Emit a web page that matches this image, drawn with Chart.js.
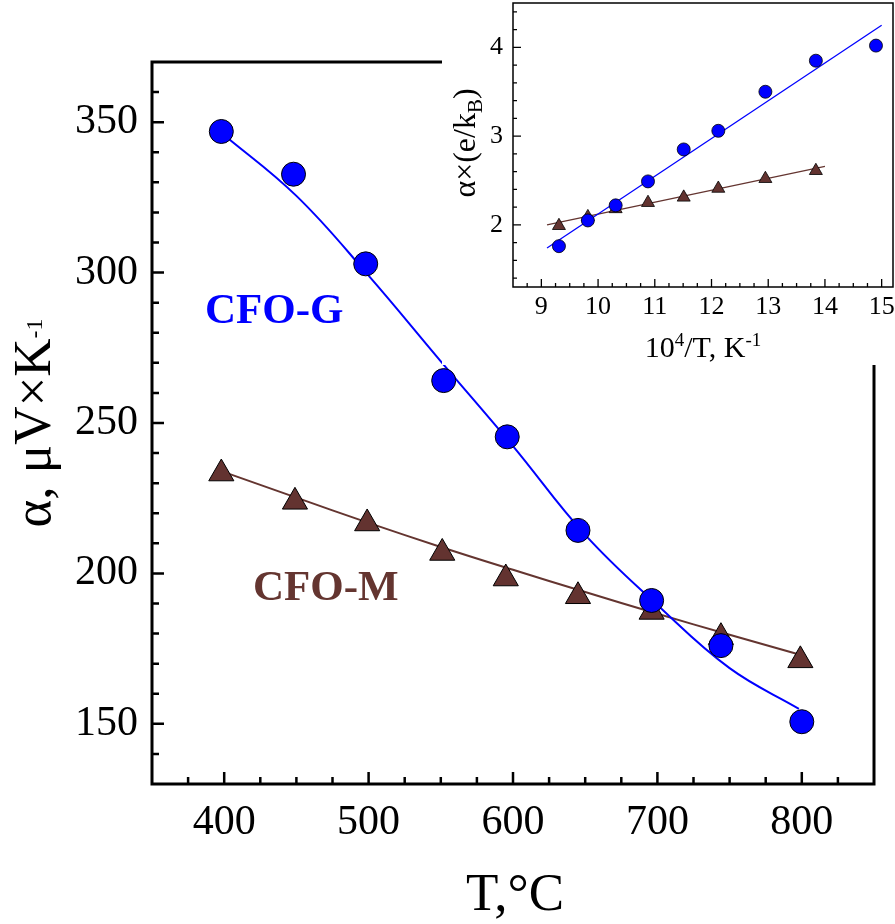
<!DOCTYPE html>
<html lang="en">
<head>
<meta charset="utf-8" />
<script src="https://cdn.jsdelivr.net/npm/chart.js@4.4.0/dist/chart.umd.min.js"></script>
<title>Seebeck coefficient</title>
<style>
  html, body { margin: 0; padding: 0; background: #fff; overflow: hidden; }
  #wrap { position: relative; width: 895px; height: 924px; overflow: hidden; }
  #main { position: absolute; left: 0; top: 0; }
  /* inset canvas runs a little past the top/right edge so the chart's point overflow padding falls outside */
  #inset { position: absolute; left: 442px; top: -6px; background: #fff; }
</style>
</head>
<body>
<div id="wrap">
  <canvas id="main" width="895" height="924"></canvas>
  <canvas id="inset" width="462" height="371"></canvas>
</div>
<script>
// main panel: alpha (uV/K) against T (C)
const tempG  = [398, 448, 498, 552, 596, 645, 696, 744, 800];
const alphaG = [346.9, 332.7, 302.9, 264.1, 245.4, 214.3, 191.0, 176.0, 150.7];
const tempM  = [398, 449, 499, 551, 595, 645, 696, 744, 799];
const alphaM = [233.2, 223.8, 216.6, 206.8, 198.3, 192.4, 187.2, 178.8, 171.1];
// fit curves
const fitTempG  = [398, 450, 500, 550, 600, 650, 700, 750, 798];
const fitAlphaG = [346.5, 325.5, 299.0, 270.5, 242.3, 212.8, 189.5, 168.5, 155.0];
const fitTempM  = [398, 450, 500, 550, 600, 650, 700, 750, 800];
const fitAlphaM = [234.0, 225.2, 216.8, 208.8, 201.2, 193.8, 186.6, 179.6, 172.8];

// inset: alpha*(e/kB) against 10^4/T
const invTG = [9.31, 9.82, 10.31, 10.88, 11.51, 12.12, 12.95, 13.84, 14.90];
const redG  = [1.76, 2.05, 2.22, 2.49, 2.85, 3.06, 3.50, 3.85, 4.02];
const invTM = [9.31, 9.82, 10.31, 10.88, 11.51, 12.12, 12.95, 13.84];
const redM  = [1.99, 2.09, 2.18, 2.25, 2.31, 2.41, 2.52, 2.61];
const fitInvTG = [9.1, 15.0];
const fitRedG  = [1.74, 4.25];
const fitInvTM = [9.1, 14.0];
const fitRedM  = [2.00, 2.66];

// ticks
const xMajor = [400, 500, 600, 700, 800];
const xMinor = [375, 425, 450, 475, 525, 550, 575, 625, 650, 675, 725, 750, 775, 825];
const yMajor = [150, 200, 250, 300, 350];
const yMinor = [140, 160, 170, 180, 190, 210, 220, 230, 240, 260, 270, 280, 290, 310, 320, 330, 340, 360];
const ixMajor = [9, 10, 11, 12, 13, 14, 15];
const ixMinor = [8.75, 9.25, 9.5, 9.75, 10.25, 10.5, 10.75, 11.25, 11.5, 11.75, 12.25, 12.5, 12.75,
                 13.25, 13.5, 13.75, 14.25, 14.5, 14.75];
const iyMajor = [2, 3, 4];
const iyMinor = [1.4, 1.6, 1.8, 2.2, 2.4, 2.6, 2.8, 3.2, 3.4, 3.6, 3.8, 4.2, 4.4];

const SERIF = '"Liberation Serif", "Times New Roman", serif';
const BLUE = '#0000ff';
const BROWN = '#643530';

const pts = (xs, ys) => xs.map((x, i) => ({ x: x, y: ys[i] }));

function richText(ctx, parts, x, y) {
  let w = 0;
  parts.forEach(p => { ctx.font = p.font; w += ctx.measureText(p.t).width; });
  let cx = x - w / 2;
  ctx.textAlign = 'left';
  ctx.textBaseline = 'alphabetic';
  parts.forEach(p => {
    ctx.font = p.font;
    ctx.fillText(p.t, cx, y + (p.dy || 0));
    cx += ctx.measureText(p.t).width;
  });
}

// frame, inward tick marks, tick labels and texts
function makeDecor(cfg) {
  return {
    id: 'decor',
    beforeDatasetsDraw(chart) {
      const ctx = chart.ctx, a = chart.chartArea, sx = chart.scales.x, sy = chart.scales.y;
      ctx.save();
      ctx.strokeStyle = '#000';
      ctx.lineWidth = cfg.frame;
      ctx.strokeRect(a.left, a.top, a.right - a.left, a.bottom - a.top);
      ctx.lineWidth = cfg.tick;
      ctx.beginPath();
      cfg.xMajor.forEach(v => { const p = sx.getPixelForValue(v); ctx.moveTo(p, a.bottom); ctx.lineTo(p, a.bottom - cfg.major); });
      cfg.xMinor.forEach(v => { const p = sx.getPixelForValue(v); ctx.moveTo(p, a.bottom); ctx.lineTo(p, a.bottom - cfg.minor); });
      cfg.yMajor.forEach(v => { const p = sy.getPixelForValue(v); ctx.moveTo(a.left, p); ctx.lineTo(a.left + cfg.major, p); });
      cfg.yMinor.forEach(v => { const p = sy.getPixelForValue(v); ctx.moveTo(a.left, p); ctx.lineTo(a.left + cfg.minor, p); });
      ctx.stroke();

      ctx.fillStyle = '#000';
      ctx.font = cfg.labelSize + 'px ' + SERIF;
      ctx.textBaseline = 'middle';
      ctx.textAlign = 'center';
      cfg.xMajor.forEach(v => ctx.fillText(String(v), sx.getPixelForValue(v), a.bottom + cfg.xLabelOff));
      ctx.textAlign = 'right';
      cfg.yMajor.forEach(v => ctx.fillText(String(v), a.left - cfg.yLabelOff, sy.getPixelForValue(v)));
      ctx.restore();
    },
    afterDraw(chart) {
      const ctx = chart.ctx;
      ctx.save();
      ctx.fillStyle = '#000';
      cfg.texts(ctx);
      ctx.restore();
    }
  };
}

function hiddenAxis(min, max, size, isX) {
  return {
    type: 'linear', min: min, max: max,
    grid: { display: false, drawTicks: false }, border: { display: false },
    ticks: { display: false },
    afterFit: s => { if (isX) { s.height = size; } else { s.width = size; } }
  };
}

new Chart(document.getElementById('main'), {
  type: 'scatter',
  data: {
    datasets: [
      { data: pts(tempG, alphaG), pointStyle: 'circle', pointRadius: 12, pointHoverRadius: 12,
        backgroundColor: BLUE, borderColor: '#000', borderWidth: 1, order: 0 },
      { data: pts(tempM, alphaM), pointStyle: 'triangle', pointRadius: 14.5, pointHoverRadius: 14.5,
        backgroundColor: '#633330', borderColor: '#000', borderWidth: 1, order: 1 },
      { data: pts(fitTempG, fitAlphaG), showLine: true, pointRadius: 0, borderColor: BLUE, borderWidth: 2,
        tension: 0.4, order: 2 },
      { data: pts(fitTempM, fitAlphaM), showLine: true, pointRadius: 0, borderColor: BROWN, borderWidth: 2,
        tension: 0.4, order: 3 }
    ]
  },
  options: {
    responsive: false,
    animation: false,
    devicePixelRatio: 1,
    layout: { padding: { top: 62, right: 21, left: 0, bottom: 0 } },
    plugins: { legend: { display: false }, tooltip: { enabled: false } },
    scales: {
      x: hiddenAxis(350, 850, 140, true),
      y: hiddenAxis(130, 370, 152, false)
    }
  },
  plugins: [makeDecor({
    frame: 3, tick: 2.5, major: 12, minor: 7,
    labelSize: 42, xLabelOff: 38.5, yLabelOff: 14,
    xMajor: xMajor, xMinor: xMinor, yMajor: yMajor, yMinor: yMinor,
    texts(ctx) {
      const f = s => s + 'px ' + SERIF;
      richText(ctx, [{ t: 'T,°C', font: f(53) }], 515, 910);
      ctx.save();
      ctx.translate(50, 423);
      ctx.rotate(-Math.PI / 2);
      richText(ctx, [{ t: 'α, μV×K', font: f(53) }, { t: '-1', font: f(24), dy: -8 }], 0, 0);
      ctx.restore();
      ctx.textAlign = 'left';
      ctx.textBaseline = 'alphabetic';
      ctx.font = 'bold 43px ' + SERIF;
      ctx.fillStyle = BLUE;
      ctx.fillText('CFO-G', 205, 323);
      ctx.fillStyle = BROWN;
      ctx.fillText('CFO-M', 253, 600);
    }
  })]
});

new Chart(document.getElementById('inset'), {
  type: 'scatter',
  data: {
    datasets: [
      { data: pts(invTG, redG), pointStyle: 'circle', pointRadius: 6.5, pointHoverRadius: 6.5,
        backgroundColor: BLUE, borderColor: '#000', borderWidth: 0.8, order: 0 },
      { data: pts(invTM, redM), pointStyle: 'triangle', pointRadius: 7.5, pointHoverRadius: 7.5,
        backgroundColor: '#633330', borderColor: '#000', borderWidth: 0.8, order: 1 },
      { data: pts(fitInvTG, fitRedG), showLine: true, pointRadius: 0, borderColor: BLUE, borderWidth: 1.3, order: 2 },
      { data: pts(fitInvTM, fitRedM), showLine: true, pointRadius: 0, borderColor: BROWN, borderWidth: 1.3, order: 3 }
    ]
  },
  options: {
    responsive: false,
    animation: false,
    devicePixelRatio: 1,
    layout: { padding: { top: 9, right: 11, left: 0, bottom: 0 } },
    plugins: { legend: { display: false }, tooltip: { enabled: false } },
    scales: {
      x: hiddenAxis(8.5, 15.2, 78, true),
      y: hiddenAxis(1.3, 4.5, 71, false)
    }
  },
  plugins: [makeDecor({
    frame: 1.5, tick: 1.3, major: 8, minor: 4,
    labelSize: 26, xLabelOff: 20, yLabelOff: 10,
    xMajor: ixMajor, xMinor: ixMinor, yMajor: iyMajor, yMinor: iyMinor,
    texts(ctx) {
      const f = s => s + 'px ' + SERIF;
      richText(ctx, [
        { t: '10', font: f(30) }, { t: '4', font: f(19), dy: -11 },
        { t: '/T, K', font: f(30) }, { t: '-1', font: f(19), dy: -11 }
      ], 261, 363);
      ctx.save();
      ctx.translate(33, 149);
      ctx.rotate(-Math.PI / 2);
      richText(ctx, [
        { t: 'α×(e/k', font: f(32) }, { t: 'B', font: f(21), dy: 7 }, { t: ')', font: f(32) }
      ], 0, 0);
      ctx.restore();
    }
  })]
});
</script>
</body>
</html>
